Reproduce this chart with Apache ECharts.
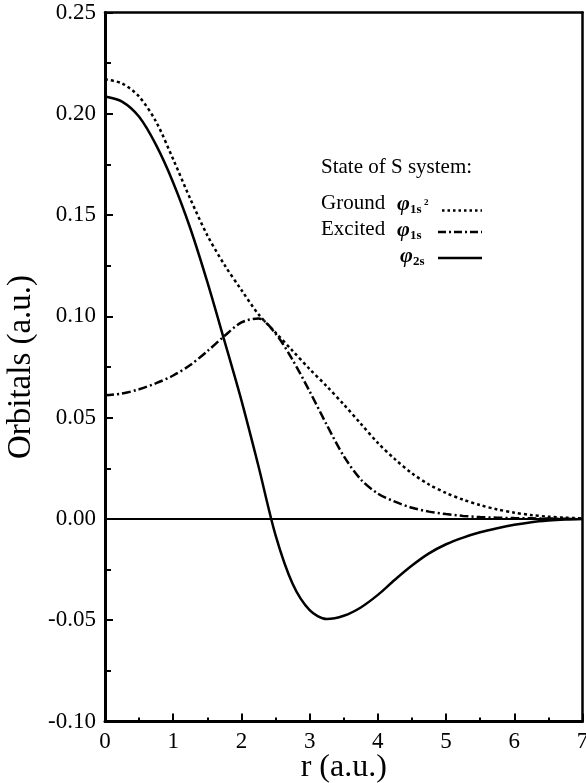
<!DOCTYPE html>
<html>
<head>
<meta charset="utf-8">
<script src="https://cdn.jsdelivr.net/npm/echarts@6/dist/echarts.min.js"></script>
<style>
  html, body { margin: 0; padding: 0; background: #fff; }
  #chart { width: 586px; height: 783px; }
</style>
</head>
<body>
<div id="chart"></div>
<script>
// Radial coordinate r (a.u.)
const rValues = [0, 0.25, 0.5, 0.75, 1, 1.25, 1.5, 1.75, 2, 2.25, 2.5, 2.75, 3, 3.25, 3.5,
  3.75, 4, 4.25, 4.5, 4.75, 5, 5.25, 5.5, 5.75, 6, 6.25, 6.5, 6.75, 7];

// Ground state φ1s² (dotted)
const groundPhi1s2 = [0.2170, 0.2150, 0.2085, 0.1960, 0.1775, 0.1580, 0.1400, 0.1255, 0.1130,
  0.1010, 0.0920, 0.0830, 0.0740, 0.0655, 0.0565, 0.0470, 0.0375, 0.0295, 0.0225, 0.0170,
  0.0128, 0.0095, 0.0068, 0.0047, 0.0031, 0.0019, 0.0011, 0.0006, 0.0003];

// Excited state φ1s (dash-dot)
const excitedPhi1s = [0.0611, 0.0619, 0.0640, 0.0670, 0.0708, 0.0760, 0.0828, 0.0903, 0.0970,
  0.0990, 0.0915, 0.0785, 0.0630, 0.0465, 0.0310, 0.0195, 0.0125, 0.0085, 0.0055, 0.0036,
  0.0024, 0.0015, 0.0009, 0.0006, 0.0004, 0.0003, 0.0002, 0.0001, 0.0001];

// Excited state φ2s (solid)
const excitedPhi2s = [0.2085, 0.2060, 0.1985, 0.1845, 0.1660, 0.1435, 0.1170, 0.0880, 0.0585,
  0.0260, -0.0080, -0.0320, -0.0450, -0.0494, -0.0478, -0.0437, -0.0375, -0.0300, -0.0230,
  -0.0170, -0.0125, -0.0092, -0.0066, -0.0046, -0.0029, -0.0016, -0.0008, -0.0003, 0.0000];

const xTicks = [0, 1, 2, 3, 4, 5, 6, 7];
const yTicks = [-0.10, -0.05, 0.00, 0.05, 0.10, 0.15, 0.20, 0.25];

const legendTitle = 'State of S system:';
const legendRows = ['Ground', 'Excited'];

const FONT = '"Liberation Serif", "DejaVu Serif", serif';
const pairs = ys => rValues.map((r, i) => [r, ys[i]]);

const chart = echarts.init(document.getElementById('chart'), null, { renderer: 'canvas' });

const lineSeries = (name, ys, type) => ({
  name,
  type: 'line',
  data: pairs(ys),
  smooth: 0.3,
  symbol: 'none',
  silent: true,
  lineStyle: { color: '#000', width: 2.5, type, cap: 'butt' },
  z: 3
});

const legendText = (text, x, y, extra) => ({
  type: 'text', x, y, silent: true,
  style: Object.assign({
    text, fill: '#000', fontFamily: FONT, fontSize: 21,
    textAlign: 'left', textVerticalAlign: 'middle'
  }, extra || {})
});
const phi = (x, y) => legendText('φ', x, y, { fontStyle: 'italic', fontWeight: 'bold', fontSize: 22 });
const sub = (t, x, y) => legendText(t, x, y, { fontWeight: 'bold', fontSize: 13 });
const sample = (x1, x2, y, type) => ({
  type: 'line', silent: true,
  shape: { x1, y1: y, x2, y2: y },
  style: { stroke: '#000', lineWidth: 2.5, lineDash: type, lineCap: 'butt' }
});

const option = {
  backgroundColor: '#fff',
  animation: false,
  grid: {
    left: 105, right: 3.5, top: 12.5, bottom: 61.5,
    containLabel: false, outerBoundsMode: 'none'
  },
  xAxis: [{
    type: 'value', min: 0, max: 7, interval: 1,
    name: 'r (a.u.)', nameLocation: 'middle', nameGap: 30, nameMoveOverlap: false,
    nameTextStyle: { fontFamily: FONT, fontSize: 32, color: '#000' },
    axisLine: { show: true, onZero: false, lineStyle: { color: '#000', width: 3 } },
    axisTick: { show: true, inside: true, length: 8, lineStyle: { color: '#000', width: 2 } },
    minorTick: { show: true, splitNumber: 2, length: 4, lineStyle: { color: '#000', width: 2 } },
    axisLabel: {
      fontFamily: FONT, fontSize: 23, color: '#000', margin: 9,
      formatter: v => xTicks.includes(v) ? String(v) : ''
    },
    splitLine: { show: false }
  }, {
    type: 'value', position: 'top', min: 0, max: 7,
    axisLine: { show: true, onZero: false, lineStyle: { color: '#000', width: 2.5 } },
    axisTick: { show: false }, axisLabel: { show: false }, splitLine: { show: false }
  }],
  yAxis: [{
    type: 'value', min: -0.1, max: 0.25, interval: 0.05,
    name: 'Orbitals (a.u.)', nameLocation: 'middle', nameGap: 67, nameMoveOverlap: false,
    nameTextStyle: { fontFamily: FONT, fontSize: 33, color: '#000' },
    axisLine: { show: true, onZero: false, lineStyle: { color: '#000', width: 3 } },
    axisTick: { show: true, inside: true, length: 8, lineStyle: { color: '#000', width: 2 } },
    minorTick: { show: true, splitNumber: 2, length: 6, lineStyle: { color: '#000', width: 2 } },
    axisLabel: {
      fontFamily: FONT, fontSize: 23, color: '#000', margin: 9,
      formatter: v => {
        const t = yTicks.find(k => Math.abs(k - v) < 1e-9);
        return t === undefined ? '' : t.toFixed(2);
      }
    },
    splitLine: { show: false }
  }, {
    type: 'value', position: 'right', min: -0.1, max: 0.25,
    axisLine: { show: true, onZero: false, lineStyle: { color: '#000', width: 2.5 } },
    axisTick: { show: false }, axisLabel: { show: false }, splitLine: { show: false }
  }],
  series: [
    Object.assign(lineSeries('Ground φ1s²', groundPhi1s2, [3, 3]), {
      markLine: {
        silent: true, symbol: 'none', label: { show: false },
        lineStyle: { color: '#000', width: 2, type: 'solid' },
        data: [{ yAxis: 0 }]
      }
    }),
    lineSeries('Excited φ1s', excitedPhi1s, [9, 3, 2, 3]),
    lineSeries('Excited φ2s', excitedPhi2s, 'solid')
  ],
  graphic: [
    legendText(legendTitle, 321, 167),
    legendText(legendRows[0], 321, 203),
    legendText(legendRows[1], 321, 229),
    phi(397, 204), sub('1s', 410, 210), legendText('2', 424, 203, { fontWeight: 'bold', fontSize: 9 }),
    phi(397, 230), sub('1s', 410, 236),
    phi(400, 256), sub('2s', 413, 262),
    sample(442, 482, 210.5, [2.5, 3]),
    sample(438, 482, 232, [8, 3, 2, 3]),
    sample(438, 482, 258, null)
  ]
};

chart.setOption(option);
</script>
</body>
</html>
